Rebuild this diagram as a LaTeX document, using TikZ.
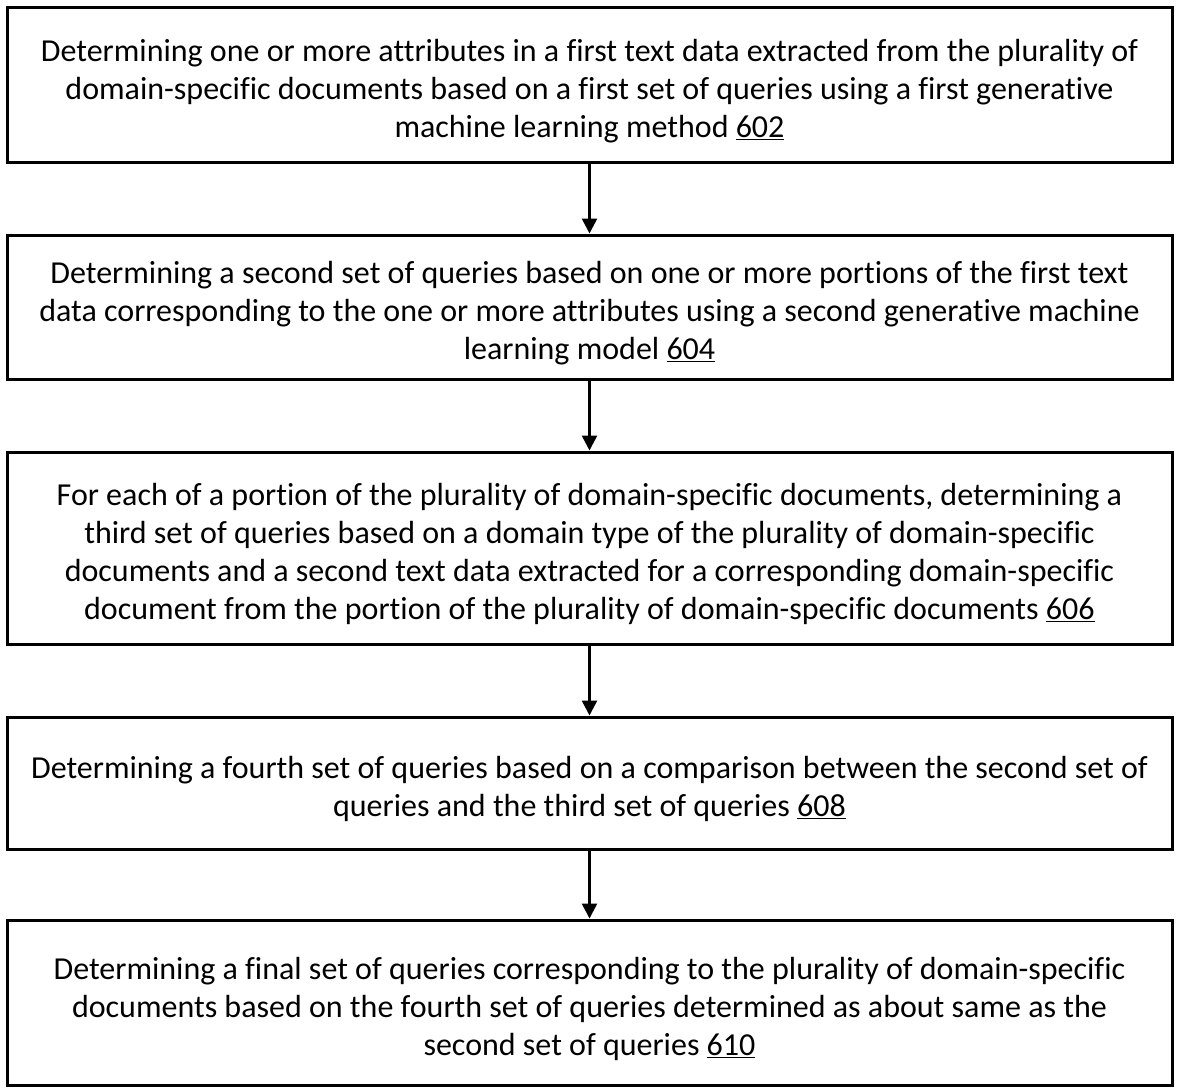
\documentclass[tikz,border=0pt]{standalone}
\usepackage{fontspec}
\setmainfont[Ligatures=NoCommon]{Carlito}
\usetikzlibrary{arrows.meta}
% strut that lowers the text block a little inside each box
\newcommand\toppad{\rule{0pt}{35pt}}
\tikzset{
  stepbox/.style={draw=black, line width=3pt, minimum width=1165pt, inner sep=0pt,
    align=center, font=\fontsize{32}{38}\selectfont},
  flowarrow/.style={line width=2.5pt, -{Triangle[length=15pt,width=15pt]}}
}
\begin{document}
\begin{tikzpicture}[x=1pt,y=-1pt]
  \useasboundingbox (0,0) rectangle (1178,1092);
  \node[stepbox, minimum height=155pt] (s602) at (589.5,84.5)
    {\toppad Determining one or more attributes in a first text data extracted from the plurality of\\
     domain-specific documents based on a first set of queries using a first generative\\
     machine learning method \underline{602}};
  \node[stepbox, minimum height=144pt] (s604) at (589.5,307)
    {\toppad Determining a second set of queries based on one or more portions of the first text\\
     data corresponding to the one or more attributes using a second generative machine\\
     learning model \underline{604}};
  \node[stepbox, minimum height=192pt] (s606) at (589.5,548)
    {\toppad For each of a portion of the plurality of domain-specific documents, determining a\\
     third set of queries based on a domain type of the plurality of domain-specific\\
     documents and a second text data extracted for a corresponding domain-specific\\
     document from the portion of the plurality of domain-specific documents \underline{606}};
  \node[stepbox, minimum height=132pt] (s608) at (589.5,783)
    {\toppad Determining a fourth set of queries based on a comparison between the second set of\\
     queries and the third set of queries \underline{608}};
  \node[stepbox, minimum height=165pt] (s610) at (589.5,1002.5)
    {\toppad Determining a final set of queries corresponding to the plurality of domain-specific\\
     documents based on the fourth set of queries determined as about same as the\\
     second set of queries \underline{610}};
  \draw[flowarrow] (s602.south) -- (s604.north);
  \draw[flowarrow] (s604.south) -- (s606.north);
  \draw[flowarrow] (s606.south) -- (s608.north);
  \draw[flowarrow] (s608.south) -- (s610.north);
\end{tikzpicture}
\end{document}
